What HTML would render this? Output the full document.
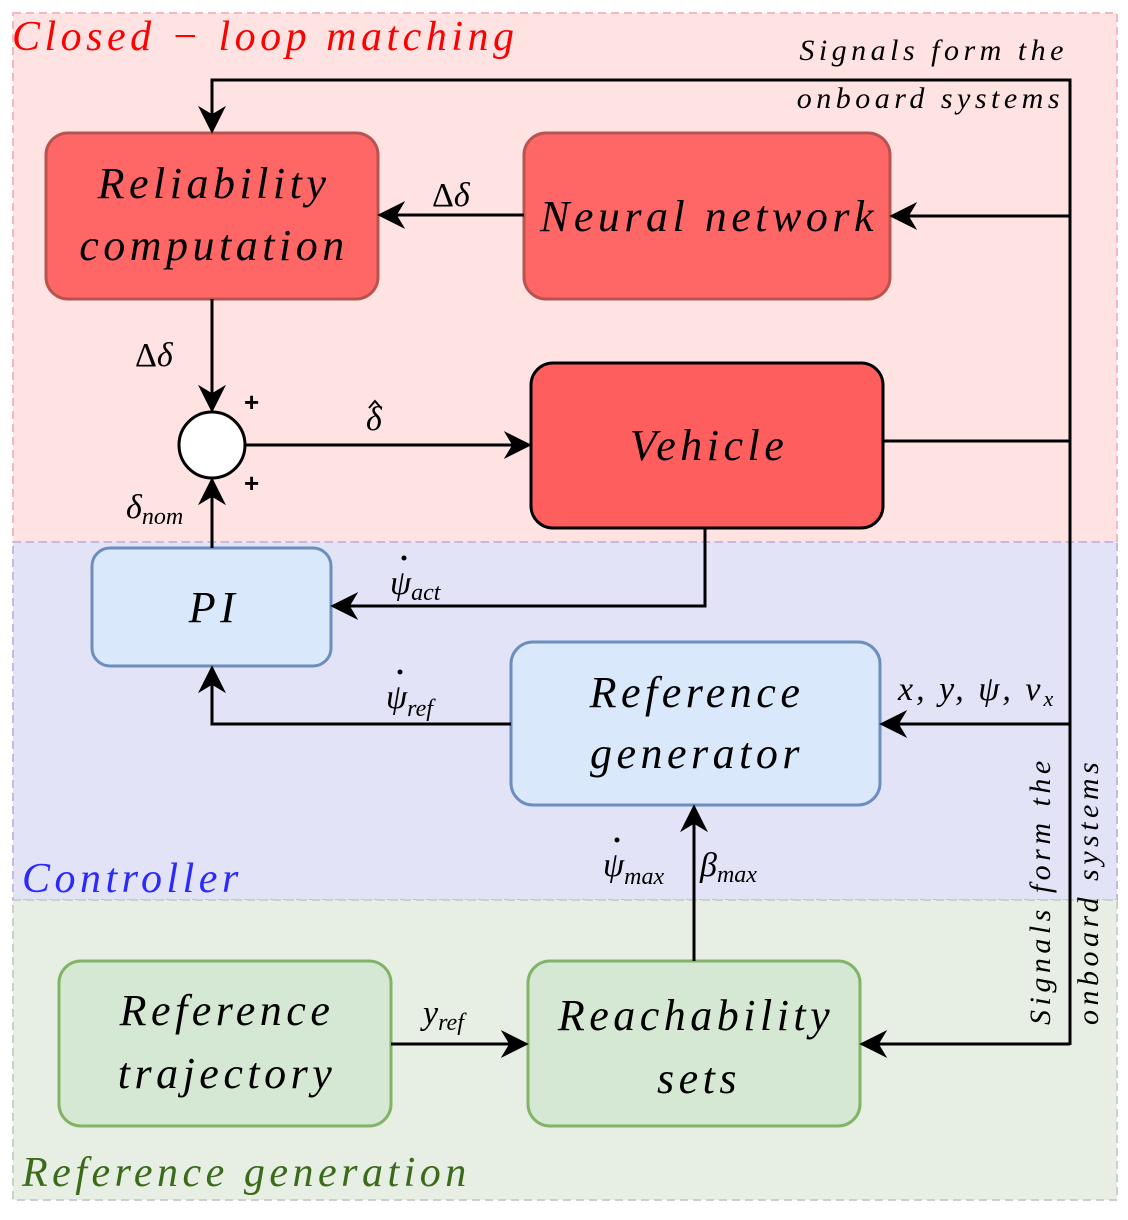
<!DOCTYPE html>
<html><head><meta charset="utf-8"><style>body{margin:0;background:#fff}text{font-family:"Liberation Serif",serif;font-style:italic;fill:#000}.w{letter-spacing:4.5px}</style></head><body>
<svg width="1128" height="1215" viewBox="0 0 1128 1215" xmlns="http://www.w3.org/2000/svg">
<defs>
<marker id="b" viewBox="0 0 20 20" refX="18" refY="10" markerWidth="28" markerHeight="28" markerUnits="userSpaceOnUse" orient="auto"><path d="M0,0 L20,10 L0,20 L6,10 Z" fill="#000"/></marker></defs>
<rect x="13" y="13" width="1104" height="529" fill="#ffe3e3" stroke="#f3b8c0" stroke-width="2" stroke-dasharray="8,5"/>
<rect x="13" y="542" width="1104" height="358" fill="#e3e3f7" stroke="#c8b8e0" stroke-width="2" stroke-dasharray="8,5"/>
<rect x="13" y="900" width="1104" height="300" fill="#e7eee3" stroke="#c8d2c8" stroke-width="2" stroke-dasharray="8,5"/>
<text class="w" x="12" y="50" font-size="42" style="fill:#ff0000">Closed  − loop matching</text>
<text class="w" x="22" y="892" font-size="42" style="fill:#2a2aff">Controller</text>
<text class="w" x="22" y="1186" font-size="42" style="fill:#3a6a1a">Reference generation</text>
<rect x="46" y="133" width="332" height="166" rx="22" fill="#ff6666" stroke="#b85450" stroke-width="3"/>
<rect x="524" y="133" width="366" height="166" rx="22" fill="#ff6666" stroke="#b85450" stroke-width="3"/>
<rect x="531" y="363" width="352" height="165" rx="22" fill="#ff5e5e" stroke="#000" stroke-width="3"/>
<rect x="92" y="548" width="239" height="118" rx="18" fill="#dae8fc" stroke="#6c8ebf" stroke-width="3"/>
<rect x="511" y="642" width="369" height="163" rx="22" fill="#dae8fc" stroke="#6c8ebf" stroke-width="3"/>
<rect x="59" y="961" width="332" height="165" rx="22" fill="#d5e8d4" stroke="#82b366" stroke-width="3"/>
<rect x="528" y="961" width="332" height="165" rx="22" fill="#d5e8d4" stroke="#82b366" stroke-width="3"/>
<circle cx="212" cy="445" r="33" fill="#fff" stroke="#000" stroke-width="3"/>
<g stroke="#000" stroke-width="3" fill="none">
<path d="M1070,1045 V80 H212 V131" marker-end="url(#b)"/>
<path d="M1070,216 H892" marker-end="url(#b)"/>
<path d="M883,441 H1070"/>
<path d="M1070,724 H882" marker-end="url(#b)"/>
<path d="M1070,1044 H862" marker-end="url(#b)"/>
<path d="M524,215 H380" marker-end="url(#b)"/>
<path d="M212,299 V410" marker-end="url(#b)"/>
<path d="M212,548 V480" marker-end="url(#b)"/>
<path d="M245,445 H529" marker-end="url(#b)"/>
<path d="M705,528 V606 H333" marker-end="url(#b)"/>
<path d="M511,724 H212 V668" marker-end="url(#b)"/>
<path d="M694,961 V807" marker-end="url(#b)"/>
<path d="M391,1044 H526" marker-end="url(#b)"/>
<path d="M369,408 L375,401 L381,408" stroke-width="2"/>
</g>
<g font-size="44" text-anchor="middle" class="w">
<text x="214" y="198">Reliability</text><text x="214" y="260">computation</text>
<text x="709" y="231">Neural network</text>
<text x="709" y="460">Vehicle</text>
<text x="214" y="622">PI</text>
<text x="697" y="707">Reference</text><text x="697" y="768">generator</text>
<text x="227" y="1025">Reference</text><text x="227" y="1088">trajectory</text>
<text x="696" y="1030">Reachability</text><text x="699" y="1093">sets</text>
</g>
<g font-size="34">
<text x="432" y="206" style="font-style:normal">Δ<tspan style="font-style:italic">δ</tspan></text>
<text x="135" y="366" style="font-style:normal">Δ<tspan style="font-style:italic">δ</tspan></text>
<text x="366" y="430">δ</text>
<text x="126" y="518">δ<tspan font-size="24" dy="6">nom</tspan></text>
<text x="390" y="594">ψ<tspan font-size="24" dy="6">act</tspan></text>
<text x="386" y="708">ψ<tspan font-size="24" dy="8">ref</tspan></text>
<text x="898" y="700" style="letter-spacing:3px">x, y, ψ, v<tspan font-size="22" dy="6">x</tspan></text>
<text x="603" y="876">ψ<tspan font-size="24" dy="8">max</tspan></text>
<text x="700" y="876">β<tspan font-size="24" dy="6">max</tspan></text>
<text x="423" y="1024">y<tspan font-size="24" dy="6">ref</tspan></text>
</g>
<g fill="#000"><circle cx="404" cy="558" r="2.5"/><circle cx="400" cy="672" r="2.5"/><circle cx="617" cy="840" r="2.5"/></g>
<text x="244" y="411" font-size="26" style="font-style:normal;font-family:'Liberation Sans',sans-serif;font-weight:bold">+</text>
<text x="244" y="492" font-size="26" style="font-style:normal;font-family:'Liberation Sans',sans-serif;font-weight:bold">+</text>
<g font-size="30" text-anchor="end" class="w">
<text x="1068" y="60">Signals form the</text>
<text x="1064" y="108">onboard systems</text>
</g>
<text class="w" transform="translate(1050,1025) rotate(-90)" font-size="30">Signals form the</text>
<text class="w" transform="translate(1098,1025) rotate(-90)" font-size="30">onboard systems</text>
</svg>
</body></html>
